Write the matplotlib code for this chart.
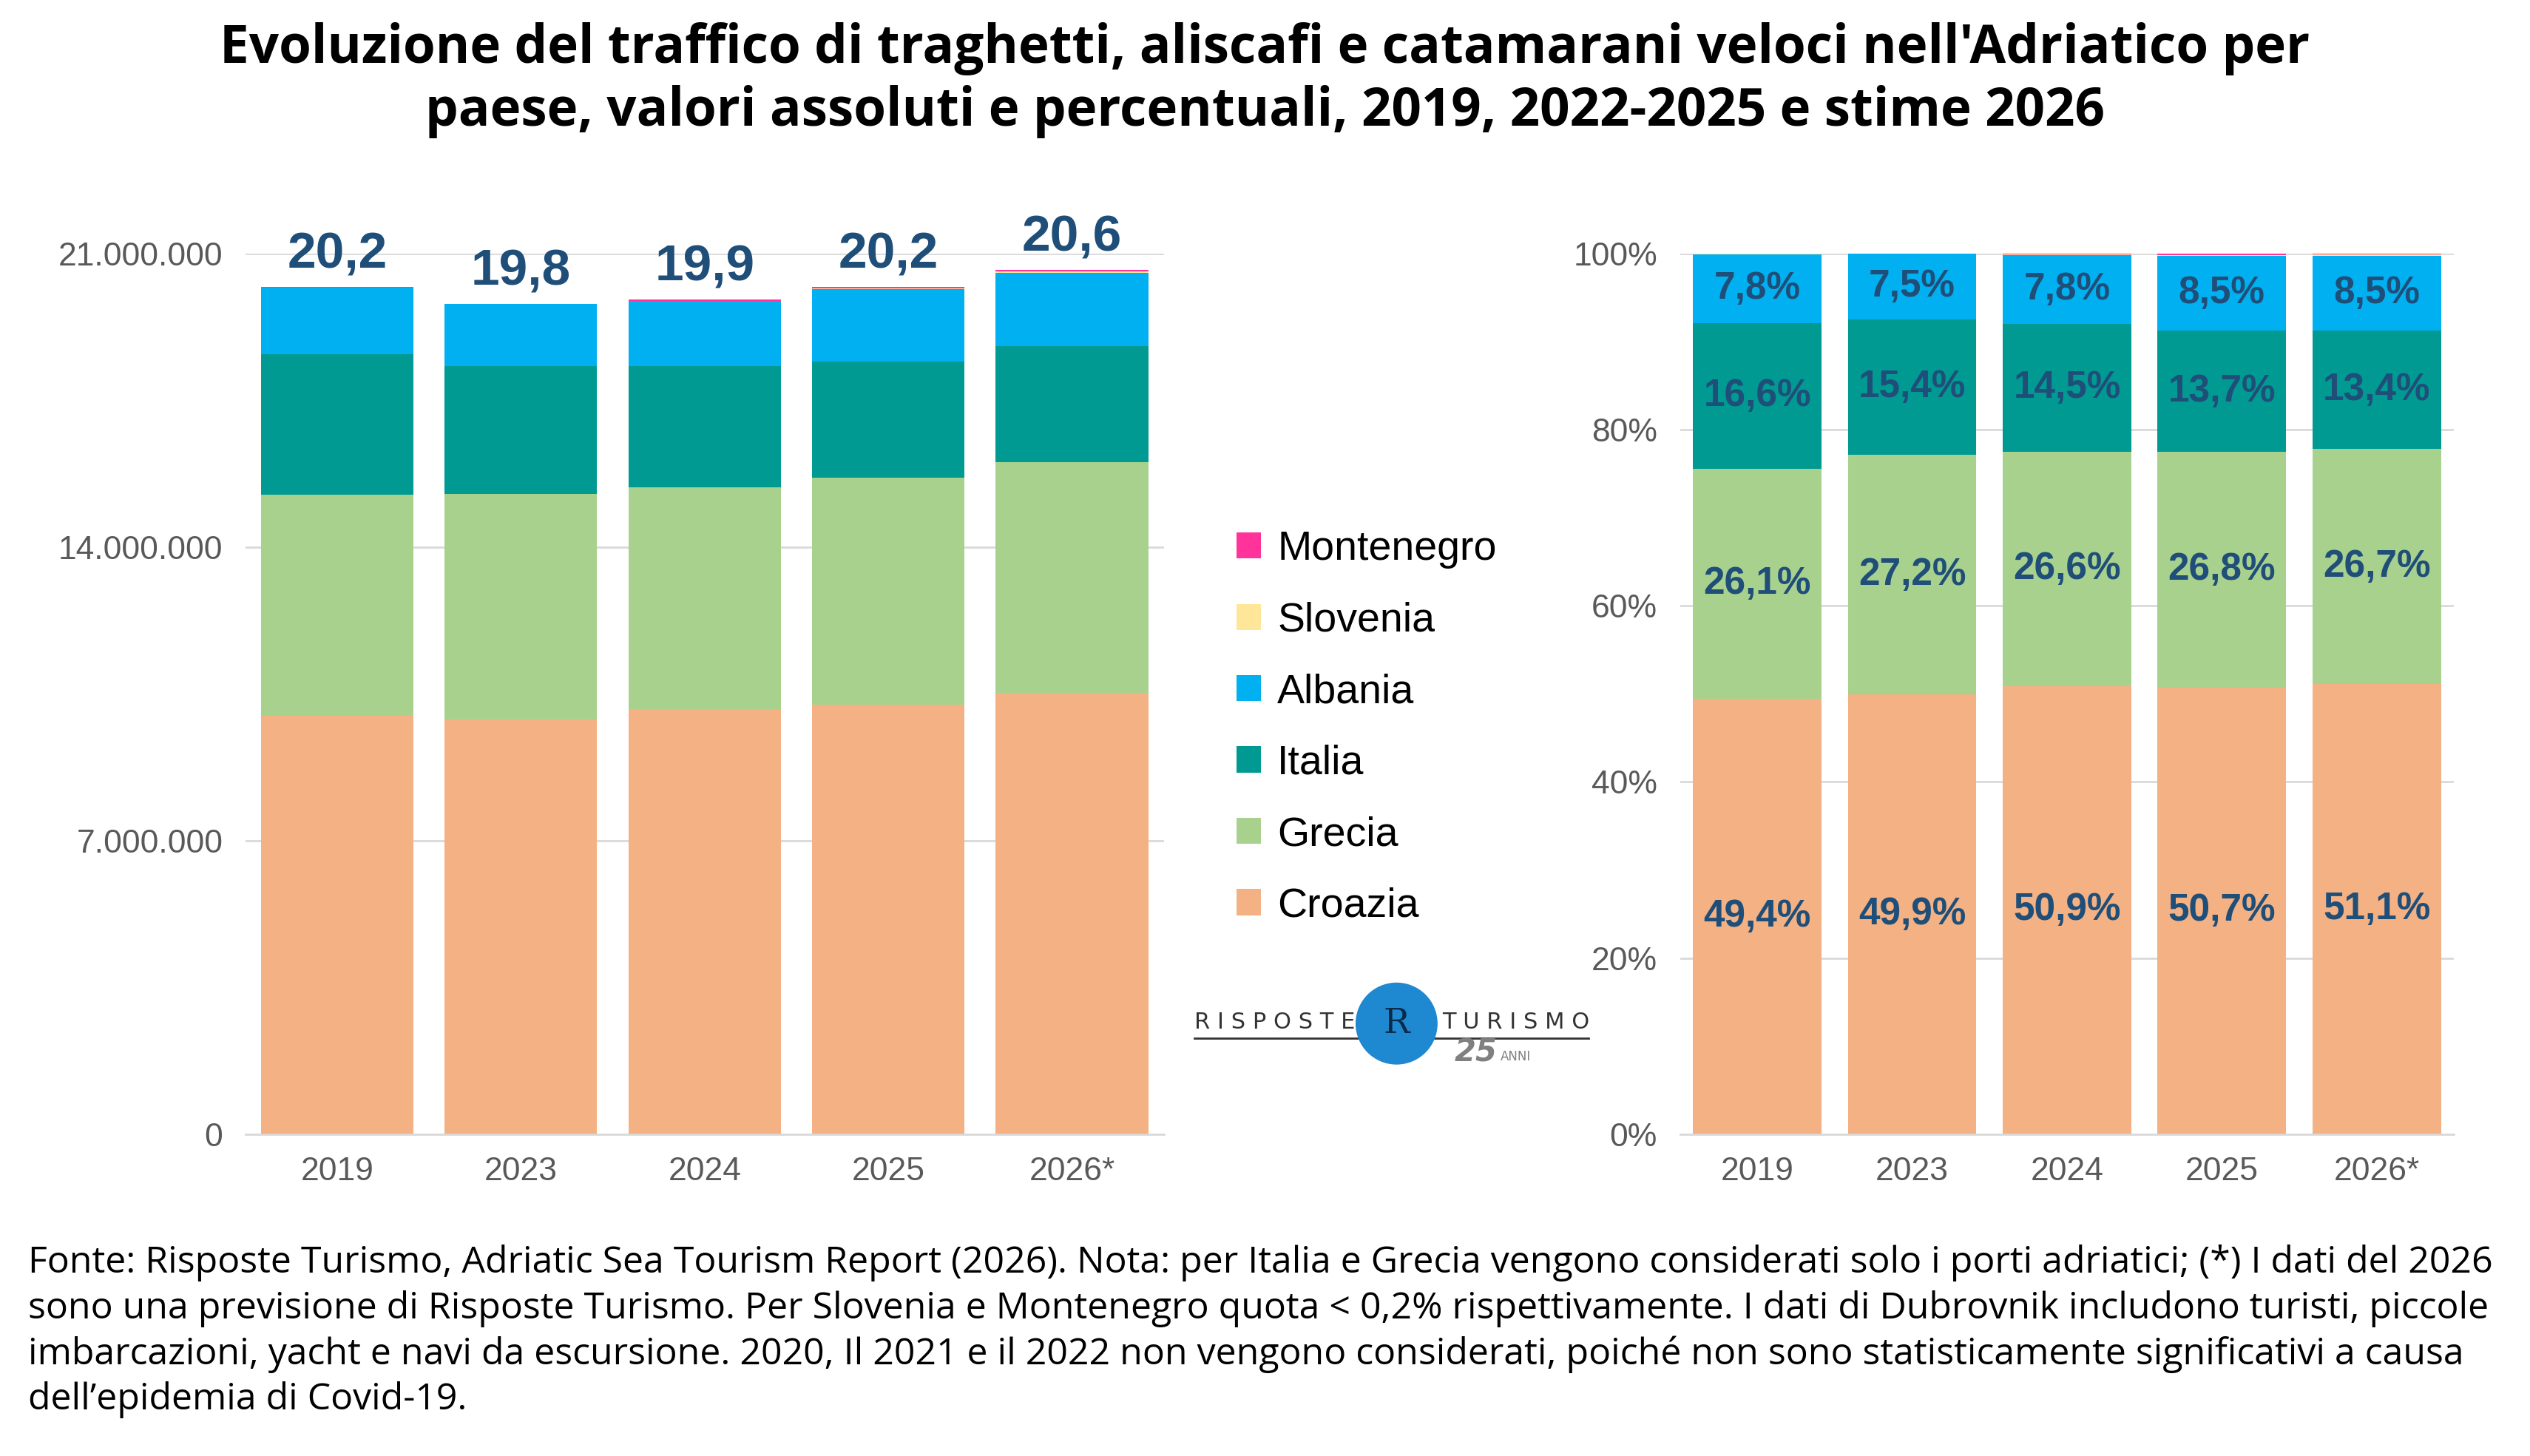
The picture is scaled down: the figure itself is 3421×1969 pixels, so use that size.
import numpy as np
import matplotlib.pyplot as plt
from matplotlib.patches import Ellipse

# dati
anni = ['2019', '2023', '2024', '2025', '2026*']
totali = [20.2, 19.8, 19.9, 20.2, 20.6]  # milioni
paesi = ['Croazia', 'Grecia', 'Italia', 'Albania', 'Slovenia', 'Montenegro']
colori = ['#F4B183', '#A9D18E', '#009A93', '#00B0F0', '#FFE699', '#FF3399']
quote = {
    'Croazia':    [49.4, 49.9, 50.9, 50.7, 51.1],
    'Grecia':     [26.1, 27.2, 26.6, 26.8, 26.7],
    'Italia':     [16.6, 15.4, 14.5, 13.7, 13.4],
    'Albania':    [7.8, 7.5, 7.8, 8.5, 8.5],
    'Slovenia':   [0.05, 0.0, 0.05, 0.1, 0.15],
    'Montenegro': [0.05, 0.0, 0.15, 0.2, 0.15],
}

narrow = ['Liberation Sans', 'DejaVu Sans']
blu = '#1F4E79'

fig = plt.figure(figsize=(34.21, 19.69), dpi=100)
ax1 = fig.add_axes([0.097, 0.221, 0.363, 0.605])
ax2 = fig.add_axes([0.664, 0.221, 0.306, 0.605])

x = np.arange(len(anni))
bottom1 = np.zeros(len(anni))
bottom2 = np.zeros(len(anni))
for p, c in zip(paesi, colori):
    q = np.array(quote[p])
    v = q / 100 * np.array(totali) * 1e6
    ax1.bar(x, v, 0.83, bottom=bottom1, color=c, label=p, zorder=2)
    ax2.bar(x, q, 0.83, bottom=bottom2, color=c, zorder=2)
    if p in ['Croazia', 'Grecia', 'Italia', 'Albania']:
        for i in range(len(anni)):
            ax2.text(x[i], bottom2[i] + q[i] / 2, f'{q[i]:.1f}%'.replace('.', ','), ha='center', va='center',
                     fontsize=37, fontweight='bold', color=blu, family=narrow, zorder=3)
    bottom1 += v
    bottom2 += q

for i in range(len(anni)):
    ax1.text(x[i], bottom1[i] + 2e5, f'{totali[i]:.1f}'.replace('.', ','), ha='center', va='bottom',
             fontsize=50, fontweight='bold', color=blu, family=narrow, clip_on=False)

ax1.set_ylim(0, 21e6)
ax1.set_yticks([0, 7e6, 14e6, 21e6])
ax1.set_yticklabels(['0', '7.000.000', '14.000.000', '21.000.000'])
ax2.set_ylim(0, 100)
ax2.set_yticks(range(0, 101, 20))
ax2.set_yticklabels([f'{t}%' for t in range(0, 101, 20)])

for ax in (ax1, ax2):
    ax.set_xlim(-0.5, 4.5)
    ax.set_xticks(x)
    ax.set_xticklabels(anni)
    ax.grid(axis='y', color='#D9D9D9', linewidth=2, zorder=0)
    for s in ['top', 'right', 'left']:
        ax.spines[s].set_visible(False)
    ax.spines['bottom'].set_color('#D9D9D9')
    ax.spines['bottom'].set_linewidth(2)
    ax.tick_params(length=0, labelsize=32, labelcolor='#595959', pad=22)
    for t in ax.get_xticklabels() + ax.get_yticklabels():
        t.set_family(narrow)

# legenda
h, l = ax1.get_legend_handles_labels()
fig.legend(h[::-1], l[::-1], loc='center left', bbox_to_anchor=(0.474, 0.5), frameon=False,
           prop={'family': narrow, 'size': 40}, handlelength=0.6, handleheight=0.6,
           labelspacing=0.8, handletextpad=0.4)

# logo
fig.text(0.472, 0.298, 'R I S P O S T E', fontsize=22, color='#333333', va='center')
fig.text(0.570, 0.298, 'T U R I S M O', fontsize=22, color='#333333', va='center')
fig.add_artist(plt.Line2D([0.472, 0.628], [0.287, 0.287], color='#333333', lw=2))
fig.add_artist(Ellipse((0.552, 0.297), 0.032, 0.032 * 34.21 / 19.69, color='#1E88D0',
                       transform=fig.transFigure, zorder=3))
fig.text(0.552, 0.297, 'R', fontsize=34, color='#0A2A4A', ha='center', va='center',
         family='DejaVu Serif', zorder=4)
fig.text(0.575, 0.277, '25', fontsize=30, fontweight='bold', style='italic', color='#808080', va='center')
fig.text(0.593, 0.274, 'ANNI', fontsize=12, color='#808080', va='center')

fig.suptitle("Evoluzione del traffico di traghetti, aliscafi e catamarani veloci nell'Adriatico per\n"
             "paese, valori assoluti e percentuali, 2019, 2022-2025 e stime 2026",
             y=0.985, fontsize=51, fontweight='bold', family='Open Sans', linespacing=1.25)

nota = ("Fonte: Risposte Turismo, Adriatic Sea Tourism Report (2026). Nota: per Italia e Grecia vengono considerati solo i porti adriatici; (*) I dati del 2026\n"
        "sono una previsione di Risposte Turismo. Per Slovenia e Montenegro quota < 0,2% rispettivamente. I dati di Dubrovnik includono turisti, piccole\n"
        "imbarcazioni, yacht e navi da escursione. 2020, Il 2021 e il 2022 non vengono considerati, poiché non sono statisticamente significativi a causa\n"
        "dell’epidemia di Covid-19.")
fig.text(0.011, 0.145, nota, fontsize=36, family='Open Sans', va='top', linespacing=1.3)

fig.savefig('out.png', dpi=100)
